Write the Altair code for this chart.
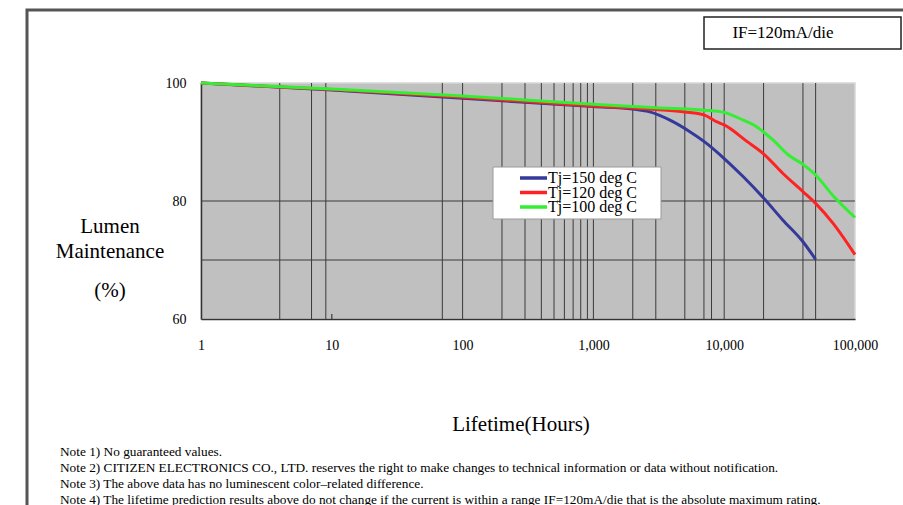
import altair as alt
import pandas as pd

# ---------------- data ----------------
series_names = ["Tj=150 deg C", "Tj=120 deg C", "Tj=100 deg C"]
series_colors = ["#35399a", "#ff2222", "#33ee33"]

hours_150 = [1, 10, 100, 1000, 2000, 2700, 3850, 5500, 7000, 10000, 14000, 20000, 28000, 40000, 50000]
lm_150 = [100, 98.8, 97.4, 96.0, 95.6, 95.1, 93.7, 91.7, 90.1, 87.2, 84.1, 80.5, 76.8, 73.1, 70.1]

hours_120 = [1, 10, 100, 1000, 3000, 5000, 7000, 8800, 10000, 14900, 20000, 28000, 40000, 50000, 68000, 100000]
lm_120 = [100, 98.9, 97.6, 96.1, 95.5, 95.1, 94.6, 93.4, 92.9, 90.1, 88.0, 84.7, 81.6, 79.6, 76.2, 70.9]

hours_100 = [1, 10, 100, 1000, 3000, 7000, 10000, 14000, 17700, 20000, 23700, 31000, 40000, 50000, 68000, 100000]
lm_100 = [100, 99.0, 97.8, 96.4, 95.8, 95.4, 95.0, 93.7, 92.6, 91.7, 90.3, 87.8, 86.2, 84.4, 80.9, 77.2]

x_ticks = [1, 10, 100, 1000, 10000, 100000]
y_ticks = [60, 80, 100]
grid_hours = [4, 7, 9, 70, 100, 200, 300, 400, 500, 600, 700, 800, 900, 1000,
              2000, 3000, 5000, 7000, 8000, 10000, 20000, 40000, 50000]
grid_lm = [70, 80]
small_tick_hours = [10]

notes = [
    "Note 1) No guaranteed values.",
    "Note 2) CITIZEN ELECTRONICS CO., LTD. reserves the right to make changes to technical information or data without notification.",
    "Note 3) The above data has no luminescent color\u2013related difference.",
    "Note 4) The lifetime prediction results above do not change if the current is within a range IF=120mA/die that is the absolute maximum rating.",
]
condition_label = "IF=120mA/die"
x_title = "Lifetime(Hours)"
y_title_lines = ["Lumen", "Maintenance"]
y_unit = "(%)"

# ---------------- build tables ----------------
rows = []
for name, hs, vs in [(series_names[0], hours_150, lm_150),
                     (series_names[1], hours_120, lm_120),
                     (series_names[2], hours_100, lm_100)]:
    for h, v in zip(hs, vs):
        rows.append({"series": name, "hours": h, "lm": v})
lines_df = pd.DataFrame(rows)

FONT = "Liberation Serif"
W, H = 654, 236
PAD_L, PAD_T = 201, 83

x_scale = alt.Scale(type="log", domain=[1, 100000], nice=False)
y_scale = alt.Scale(domain=[60, 100], nice=False, zero=False)
x_axis = alt.Axis(values=x_ticks, format=",", title=None, grid=False, ticks=False,
                  labelFont=FONT, labelFontSize=14, labelColor="#000",
                  labelPadding=19, domainColor="#333", domainWidth=1.5, labelFlush=False)
y_axis = alt.Axis(values=y_ticks, title=None, grid=False, ticks=False,
                  labelFont=FONT, labelFontSize=14, labelColor="#000",
                  labelPadding=15, domainColor="#333", domainWidth=1.5)

X = alt.X("hours:Q", scale=x_scale, axis=x_axis)
Y = alt.Y("lm:Q", scale=y_scale, axis=y_axis)

one = pd.DataFrame({"k": [0]})

frame = alt.Chart(one).mark_rect(fill=None, stroke="#555555", strokeWidth=3).encode(
    x=alt.value(27 - PAD_L), x2=alt.value(760),
    y=alt.value(10 - PAD_T), y2=alt.value(460))

vgrid = alt.Chart(pd.DataFrame({"hours": grid_hours})).mark_rule(
    color="#3a3a3a", strokeWidth=1).encode(x=X)
hgrid = alt.Chart(pd.DataFrame({"lm": grid_lm})).mark_rule(
    color="#3a3a3a", strokeWidth=1).encode(y=Y)
small_ticks = alt.Chart(pd.DataFrame({"hours": small_tick_hours})).mark_rule(
    color="#3a3a3a", strokeWidth=1.2).encode(x=X, y=alt.value(H), y2=alt.value(H - 5))

color_scale = alt.Scale(domain=series_names, range=series_colors)
curves = alt.Chart(lines_df).mark_line(strokeWidth=3, interpolate="monotone").encode(
    x=X, y=Y,
    color=alt.Color("series:N", scale=color_scale, legend=None),
    detail="series:N")

# legend box (manual)
leg_box = alt.Chart(one).mark_rect(fill="white", stroke="#9a9a9a", strokeWidth=1).encode(
    x=alt.value(292), x2=alt.value(460), y=alt.value(84), y2=alt.value(136))
sym_layers = []
for i, (name, col) in enumerate(zip(series_names, series_colors)):
    sym_layers.append(alt.Chart(one).mark_rule(strokeWidth=3.5, color=col).encode(
        x=alt.value(319), x2=alt.value(346),
        y=alt.value(95 + 14.5 * i), y2=alt.value(95 + 14.5 * i)))
leg_text = alt.Chart(one).mark_text(text=series_names, font=FONT, fontSize=16,
                                    align="left", baseline="middle", lineHeight=14.5,
                                    color="#000").encode(
    x=alt.value(347), y=alt.value(95))

# titles & annotations
cond_box = alt.Chart(one).mark_rect(fill="white", stroke="#222", strokeWidth=1.5).encode(
    x=alt.value(704 - PAD_L), x2=alt.value(901 - PAD_L),
    y=alt.value(17 - PAD_T), y2=alt.value(49 - PAD_T))
cond_text = alt.Chart(one).mark_text(text=condition_label, font=FONT, fontSize=17,
                                     align="center", baseline="middle", color="#000").encode(
    x=alt.value(783 - PAD_L), y=alt.value(33 - PAD_T))
ytitle = alt.Chart(one).mark_text(text=y_title_lines, font=FONT, fontSize=21, lineHeight=25,
                                  align="center", baseline="middle", color="#000").encode(
    x=alt.value(110 - PAD_L), y=alt.value(227 - PAD_T))
yunit = alt.Chart(one).mark_text(text=y_unit, font=FONT, fontSize=21,
                                 align="center", baseline="middle", color="#000").encode(
    x=alt.value(110 - PAD_L), y=alt.value(291 - PAD_T))
xtitle = alt.Chart(one).mark_text(text=x_title, font=FONT, fontSize=21,
                                  align="center", baseline="middle", color="#000").encode(
    x=alt.value(521 - PAD_L), y=alt.value(425 - PAD_T))
notes_text = alt.Chart(one).mark_text(text=notes, font=FONT, fontSize=13.3, lineHeight=16,
                                      align="left", baseline="middle", color="#000").encode(
    x=alt.value(60 - PAD_L), y=alt.value(452 - PAD_T))

chart = alt.layer(
    frame, vgrid, hgrid, small_ticks, curves, leg_box, *sym_layers, leg_text,
    cond_box, cond_text, ytitle, yunit, xtitle, notes_text
).properties(
    width=W, height=H,
    padding={"left": PAD_L, "top": PAD_T, "right": 903 - PAD_L - W, "bottom": 505 - PAD_T - H},
    autosize=alt.AutoSizeParams(type="none"),
    background="white",
).configure_view(fill="#c0c0c0", stroke="#d6d6d6", strokeWidth=1.5)

chart.save("out.html", embed_options={"renderer": "svg", "actions": False})
